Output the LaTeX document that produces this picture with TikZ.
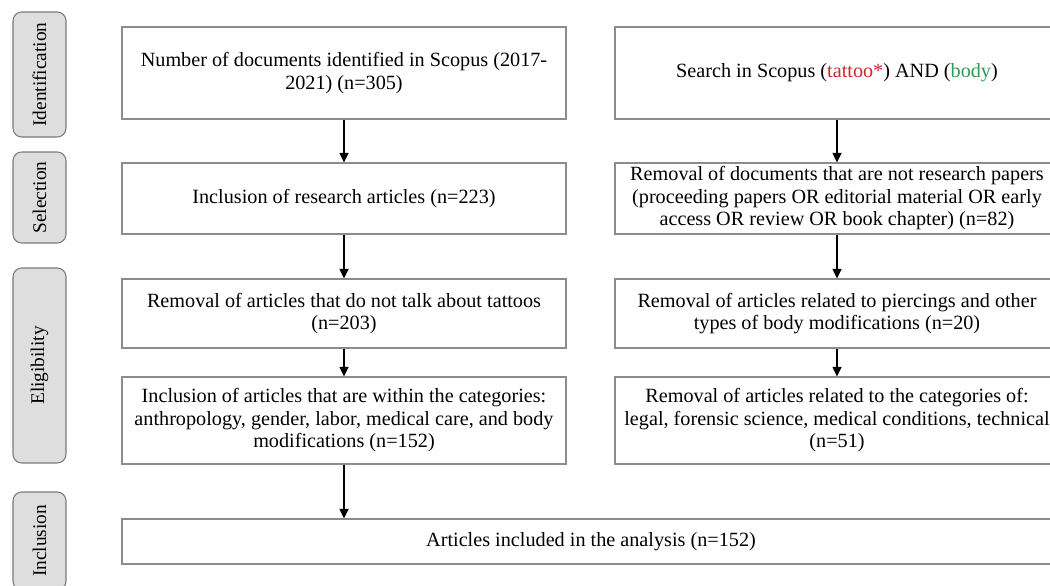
\documentclass[tikz,border=0pt]{standalone}
\usepackage{fontspec}
\setmainfont{Liberation Serif}
\usepackage{xcolor}
\usetikzlibrary{positioning, arrows.meta}

\definecolor{boxgray}{HTML}{8C8C8C}
\definecolor{phasefill}{HTML}{DEDEDE}
\definecolor{phaseline}{HTML}{7A7A7A}
\definecolor{termred}{HTML}{C8282E}
\definecolor{termgreen}{HTML}{2F9A55}

\begin{document}
\begin{tikzpicture}[
  box/.style={draw=boxgray, line width=0.6pt, fill=white, align=center,
    minimum width=8.88cm, inner sep=2pt, font=\fontsize{11.5}{12.8}\selectfont},
  phase/.style={draw=phaseline, line width=0.6pt, fill=phasefill, rounded corners=5pt,
    rotate=90, minimum height=1.06cm, inner sep=2pt, font=\fontsize{11}{12}\selectfont},
  flow/.style={-{Triangle[length=5.5pt,width=5pt]}, line width=1.2pt}
]
\useasboundingbox (0,0) rectangle (21,-11.72);
\clip (0,0) rectangle (21,-11.72);

% phase labels on the left
\node[phase, minimum width=2.5cm] (ident) at (0.79,-1.49) {Identification};
\node[phase, minimum width=1.82cm] (sel) at (0.79,-3.95) {Selection};
\node[phase, minimum width=3.9cm] (elig) at (0.79,-7.31) {Eligibility};
\node[phase, minimum width=1.96cm] (incl) at (0.79,-10.82) {Inclusion};

% left column
\node[box, minimum height=1.84cm] (numdocs) at (6.88,-1.46) {Number of documents identified in Scopus (2017-\\2021) (n=305)};
\node[box, minimum height=1.42cm] (research) at (6.88,-3.97) {Inclusion of research articles (n=223)};
\node[box, minimum height=1.38cm] (notalk) at (6.88,-6.27) {Removal of articles that do not talk about tattoos\\(n=203)};
\node[box, minimum height=1.74cm] (categ) at (6.88,-8.41) {Inclusion of articles that are within the categories:\\anthropology, gender, labor, medical care, and body\\modifications (n=152)};

% right column
\node[box, minimum height=1.84cm] (search) at (16.74,-1.46) {Search in Scopus ({\color{termred}tattoo*}) AND ({\color{termgreen}body})};
\node[box, minimum height=1.42cm] (nopaper) at (16.74,-3.97) {Removal of documents that are not research papers\\(proceeding papers OR editorial material OR early\\access OR review OR book chapter) (n=82)};
\node[box, minimum height=1.38cm] (pierce) at (16.74,-6.27) {Removal of articles related to piercings and other\\types of body modifications (n=20)};
\node[box, minimum height=1.74cm] (legal) at (16.74,-8.41) {Removal of articles related to the categories of:\\legal, forensic science, medical conditions, technical\\(n=51)};

% result
\node[box, minimum width=18.76cm, minimum height=0.9cm] (final) at (11.82,-10.83) {Articles included in the analysis (n=152)};

% arrows
\draw[flow] (numdocs) -- (research);
\draw[flow] (research) -- (notalk);
\draw[flow] (notalk) -- (categ);
\draw[flow] (categ.south) -- (categ.south |- final.north);
\draw[flow] (search) -- (nopaper);
\draw[flow] (nopaper) -- (pierce);
\draw[flow] (pierce) -- (legal);

\end{tikzpicture}
\end{document}
